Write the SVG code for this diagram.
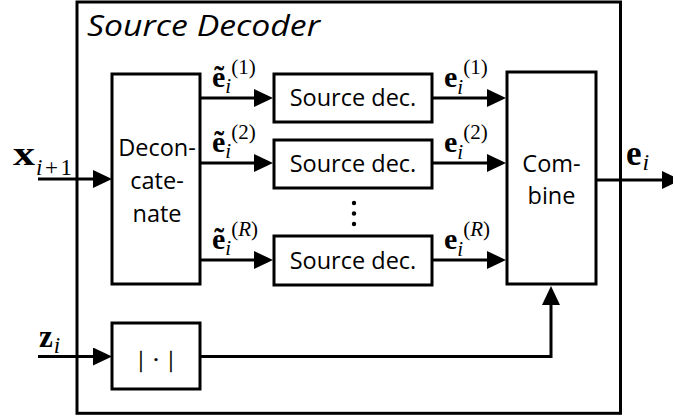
<svg xmlns="http://www.w3.org/2000/svg" width="673" height="419" viewBox="0 0 673 419">
<style>
.box{fill:#fff;stroke:#000;stroke-width:3}
.frame{fill:none;stroke:#000;stroke-width:3}
.lbl{font-family:"Open Sans","Liberation Sans",sans-serif;font-size:23.5px;fill:#000;text-anchor:middle}
.ttl{font-family:"Open Sans","Liberation Sans",sans-serif;font-size:30px;font-style:italic;fill:#000}
.m{font-family:"Liberation Serif","DejaVu Serif",serif;fill:#000;font-size:30px}
.b{font-weight:bold}
.it{font-style:italic}
.s{font-size:21px}
.wire{fill:none;stroke:#000;stroke-width:3}
</style>
<defs>
<marker id="ah" markerUnits="userSpaceOnUse" markerWidth="19" markerHeight="18" refX="15" refY="9" orient="auto" viewBox="0 0 19 18">
<path d="M0,0 L19,9 L0,18 z" fill="#000"/>
</marker>
</defs>

<g id="frame">
<rect class="frame" x="77" y="2" width="543.5" height="411.3"/>
<text class="ttl" x="87" y="36" textLength="233" lengthAdjust="spacingAndGlyphs">Source Decoder</text>
</g>

<g id="deconcatenate">
<rect class="box" x="112" y="74" width="88" height="210"/>
<text class="lbl" x="157" y="156">Decon-</text>
<text class="lbl" x="157" y="189">cate-</text>
<text class="lbl" x="157" y="222">nate</text>
</g>

<g id="srcdec1">
<rect class="box" x="274" y="74" width="158" height="48"/>
<text class="lbl" x="353" y="106">Source dec.</text>
</g>
<g id="srcdec2">
<rect class="box" x="274" y="140" width="158" height="48"/>
<text class="lbl" x="353" y="172">Source dec.</text>
</g>
<g id="srcdecR">
<rect class="box" x="274" y="236" width="158" height="49"/>
<text class="lbl" x="353" y="269">Source dec.</text>
</g>

<g id="ellipsis">
<circle cx="354" cy="203" r="2.2" fill="#000"/>
<circle cx="354" cy="213.5" r="2.2" fill="#000"/>
<circle cx="354" cy="224" r="2.2" fill="#000"/>
</g>

<g id="combine">
<rect class="box" x="507" y="72" width="89" height="212"/>
<text class="lbl" x="551.5" y="172">Com-</text>
<text class="lbl" x="551.5" y="204">bine</text>
</g>

<g id="abs">
<rect class="box" x="112" y="323" width="88" height="66"/>
<text class="m" x="141 156 171" y="367" text-anchor="middle" style="font-size:24px" stroke="#000" stroke-width="0.4">|·|</text>
</g>

<g id="connectors">
<line class="wire" x1="38" y1="179" x2="108" y2="179" marker-end="url(#ah)"/>
<line class="wire" x1="38" y1="356.5" x2="108" y2="356.5" marker-end="url(#ah)"/>
<line class="wire" x1="200" y1="98" x2="269" y2="98" marker-end="url(#ah)"/>
<line class="wire" x1="200" y1="163" x2="269" y2="163" marker-end="url(#ah)"/>
<line class="wire" x1="200" y1="260" x2="269" y2="260" marker-end="url(#ah)"/>
<line class="wire" x1="432" y1="98" x2="502" y2="98" marker-end="url(#ah)"/>
<line class="wire" x1="432" y1="163" x2="502" y2="163" marker-end="url(#ah)"/>
<line class="wire" x1="432" y1="260" x2="502" y2="260" marker-end="url(#ah)"/>
<line class="wire" x1="596" y1="180" x2="677" y2="180" marker-end="url(#ah)"/>
<polyline class="wire" points="200,356.5 551,356.5 551,290" marker-end="url(#ah)"/>
</g>

<g id="labels">
<text class="m" x="13" y="165"><tspan class="b" style="font-size:33px" textLength="22" lengthAdjust="spacingAndGlyphs">x</tspan><tspan style="font-size:23px" dy="10" x="36" textLength="36"><tspan class="it">i</tspan>+1</tspan></text>
<text class="m" x="39" y="347"><tspan class="b" style="font-size:31px">z</tspan><tspan class="it" style="font-size:23px" dx="1" dy="6">i</tspan></text>

<text class="m" x="212" y="87"><tspan class="b">ẽ</tspan><tspan class="it s" dy="6">i</tspan><tspan class="s" dy="-19">(1)</tspan></text>
<text class="m" x="212" y="152"><tspan class="b">ẽ</tspan><tspan class="it s" dy="6">i</tspan><tspan class="s" dy="-19">(2)</tspan></text>
<text class="m" x="212" y="249"><tspan class="b">ẽ</tspan><tspan class="it s" dy="6">i</tspan><tspan class="s" dy="-19">(<tspan class="it">R</tspan>)</tspan></text>

<text class="m" x="444" y="87"><tspan class="b">e</tspan><tspan class="it s" dy="7">i</tspan><tspan class="s" dy="-20">(1)</tspan></text>
<text class="m" x="444" y="152"><tspan class="b">e</tspan><tspan class="it s" dy="7">i</tspan><tspan class="s" dy="-20">(2)</tspan></text>
<text class="m" x="444" y="249"><tspan class="b">e</tspan><tspan class="it s" dy="7">i</tspan><tspan class="s" dy="-20">(<tspan class="it">R</tspan>)</tspan></text>

<text class="m" x="626" y="165"><tspan class="b" style="font-size:35px">e</tspan><tspan class="it" style="font-size:24px" dx="1" dy="5">i</tspan></text>
</g>
</svg>
